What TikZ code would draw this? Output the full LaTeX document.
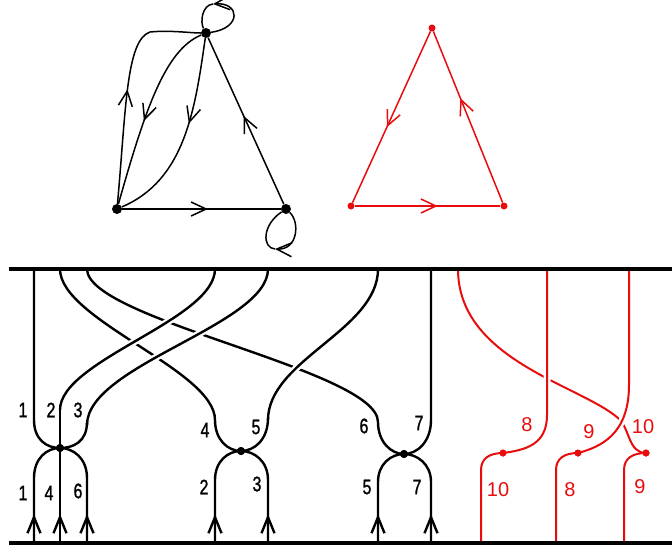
\documentclass[tikz,border=0pt]{standalone}
\usepackage{fontspec}
\setmainfont{Liberation Sans}
\newfontfamily\narrowdigits{Liberation Sans}[FakeStretch=0.76,FakeBold=1.2]
\usetikzlibrary{arrows.meta,decorations.markings}
\definecolor{myred}{RGB}{232,12,12}
\begin{document}
\begin{tikzpicture}[x=1pt,y=-1pt,
  gline/.style={line width=1.5pt,black},
  rline/.style={line width=1.5pt,myred},
  strand/.style={line width=2.4pt,black},
  rstrand/.style={line width=2pt,myred},
  overw/.style={preaction={draw=white,line width=7pt}},
  border/.style={line width=4pt,black},
  gdot/.style={circle,fill=black,inner sep=0pt,minimum size=10pt},
  bdot/.style={circle,fill=black,inner sep=0pt,minimum size=8pt},
  rdot/.style={circle,fill=myred,inner sep=0pt,minimum size=7pt},
  barb/.tip={Straight Barb[length=15pt,width=14pt]},
  midarrow/.style={postaction={decorate,decoration={markings,
     mark=at position #1 with {\arrow{barb}}}}},
  uparrow/.style={postaction={decorate,decoration={markings,
     mark=at position 29pt with {\arrow{Straight Barb[length=16pt,width=13pt]}}}}},
  blab/.style={font=\narrowdigits\fontsize{21}{21}\selectfont,inner sep=0pt},
  rlab/.style={font=\fontsize{20}{20}\selectfont,inner sep=0pt,text=myred}
]
\useasboundingbox (0,0) rectangle (672,550);

% ---------- black graph ----------
\node[gdot] (T) at (206,33) {};
\node[gdot] (L) at (117,209) {};
\node[gdot] (R) at (286,209) {};
\coordinate (Ttop) at (213,4);
\coordinate (Rbot) at (275,249);
\draw[gline,midarrow=0.54] (L) -- (R);
\draw[gline,midarrow=0.53] (R) -- (T);
\draw[gline,midarrow=0.5] (L) .. controls (126,110) and (126,40) .. (150,32)
   .. controls (170,30) and (190,33) .. (T);
\draw[gline,midarrow=0.55] (T) .. controls (165,50) and (145,110) .. (L);
\draw[gline,midarrow=0.44] (T) .. controls (195,110) and (185,180) .. (L);
% loop at T
\draw[gline,-{barb}] (T) .. controls (242,28) and (240,2) .. (Ttop);
\draw[gline] (Ttop) .. controls (202,5) and (200,22) .. (T);
% loop at R
\draw[gline,-{barb}] (R) .. controls (300,222) and (298,250) .. (Rbot);
\draw[gline] (Rbot) .. controls (262,248) and (262,225) .. (R);

% ---------- red triangle ----------
\node[rdot] (A) at (432,28) {};
\node[rdot] (B) at (351,206) {};
\node[rdot] (C) at (504,206) {};
\draw[rline,midarrow=0.56] (A) -- (B);
\draw[rline,midarrow=0.57] (B) -- (C);
\draw[rline,midarrow=0.61] (C) -- (A);

% ---------- black strands ----------
\coordinate (s1top) at (34,269);
\coordinate (s4top) at (60,269);
\coordinate (s6top) at (87,269);
\coordinate (s2top) at (215,269);
\coordinate (s3top) at (268,269);
\coordinate (s5top) at (378,269);
\coordinate (s7top) at (431,269);
\coordinate (b1) at (34,543);
\coordinate (b4) at (60,543);
\coordinate (b6) at (87,543);
\coordinate (b2) at (215,543);
\coordinate (b3) at (268,543);
\coordinate (b5) at (378,543);
\coordinate (b7) at (431,543);
\node[bdot] (v1) at (60,448) {};
\node[bdot] (v2) at (241,451) {};
\node[bdot] (v3) at (404,454) {};

% under strands
\draw[strand] (s4top) .. controls (60,320) and (215,370) .. (215,420)
   .. controls (215,440) and (228,451) .. (v2.center);
\draw[strand] (s6top) .. controls (87,320) and (378,370) .. (378,422)
   .. controls (378,442) and (391,454) .. (v3.center);
% over strands
\draw[strand,overw] (60,410) .. controls (60,360) and (215,320) .. (s2top);
\draw[strand,overw] (87,425) .. controls (87,365) and (268,325) .. (s3top);
\draw[strand,overw] (268,420) .. controls (268,360) and (378,330) .. (s5top);
% lower parts of over strands
\draw[strand] (v1.center) -- (60,410);
\draw[strand] (v1.center) .. controls (73,448) and (87,442) .. (87,422);
\draw[strand] (v2.center) .. controls (254,451) and (268,440) .. (268,418);
% straight strands
\draw[strand] (s1top) -- (34,420) .. controls (34,440) and (47,448) .. (v1.center);
\draw[strand] (s7top) -- (431,420) .. controls (431,442) and (417,454) .. (v3.center);
% bottom arcs
\draw[strand,uparrow] (b1) -- (34,478) .. controls (34,458) and (47,448) .. (v1.center);
\draw[strand,uparrow] (b4) -- (v1.center);
\draw[strand,uparrow] (b6) -- (87,478) .. controls (87,458) and (73,448) .. (v1.center);
\draw[strand,uparrow] (b2) -- (215,480) .. controls (215,461) and (228,451) .. (v2.center);
\draw[strand,uparrow] (b3) -- (268,480) .. controls (268,461) and (254,451) .. (v2.center);
\draw[strand,uparrow] (b5) -- (378,482) .. controls (378,464) and (391,454) .. (v3.center);
\draw[strand,uparrow] (b7) -- (431,482) .. controls (431,464) and (417,454) .. (v3.center);

% ---------- red strands ----------
\coordinate (rt1) at (458,269);
\coordinate (rt2) at (547,269);
\coordinate (rt3) at (629,269);
\coordinate (rb1) at (481,543);
\coordinate (rb2) at (556,543);
\coordinate (rb3) at (624,543);
\node[rdot] (rv1) at (503,453) {};
\node[rdot] (rv2) at (578,453) {};
\node[rdot] (rv3) at (646,453) {};
\draw[rstrand] (rt1) .. controls (458,360) and (580,385) .. (618,418)
   .. controls (630,428) and (628,453) .. (rv3.center);
\draw[rstrand,overw] (rt2) -- (547,415) .. controls (547,445) and (525,450) .. (rv1.center);
\draw[rstrand,overw] (rt3) -- (629,385) .. controls (629,435) and (600,447) .. (rv2.center);
\draw[rstrand] (rb1) -- (481,470) .. controls (481,458) and (490,453) .. (rv1.center);
\draw[rstrand] (rb2) -- (556,470) .. controls (556,458) and (565,453) .. (rv2.center);
\draw[rstrand] (rb3) -- (624,470) .. controls (624,458) and (633,453) .. (rv3.center);
\node[rdot] at (rv1) {};
\node[rdot] at (rv2) {};
\node[rdot] at (rv3) {};

% borders
\coordinate (bl1) at (9,269);
\coordinate (br1) at (672,269);
\coordinate (bl2) at (9,543);
\coordinate (br2) at (672,543);
\draw[border] (bl1) -- (br1);
\draw[border] (bl2) -- (br2);

% vertex dots on top
\node[bdot] at (v1) {};
\node[bdot] at (v2) {};
\node[bdot] at (v3) {};

% black labels
\node[blab] (l1a) at (23,410) {1};
\node[blab] (l2a) at (51,410) {2};
\node[blab] (l3a) at (78,410) {3};
\node[blab] (l1b) at (23,493) {1};
\node[blab] (l4b) at (49,493) {4};
\node[blab] (l6b) at (78,491) {6};
\node[blab] (l4c) at (205,430) {4};
\node[blab] (l5c) at (256,427) {5};
\node[blab] (l2c) at (204,487) {2};
\node[blab] (l3c) at (257,484) {3};
\node[blab] (l6d) at (364,426) {6};
\node[blab] (l7d) at (419,423) {7};
\node[blab] (l5d) at (367,487) {5};
\node[blab] (l7e) at (417,487) {7};

% red labels
\node[rlab] (r8a) at (527,425) {8};
\node[rlab] (r9a) at (589,432) {9};
\node[rlab] (r10a) at (643,427) {10};
\node[rlab] (r10b) at (498,490) {10};
\node[rlab] (r8b) at (570,490) {8};
\node[rlab] (r9b) at (640,487) {9};
\end{tikzpicture}
\end{document}
